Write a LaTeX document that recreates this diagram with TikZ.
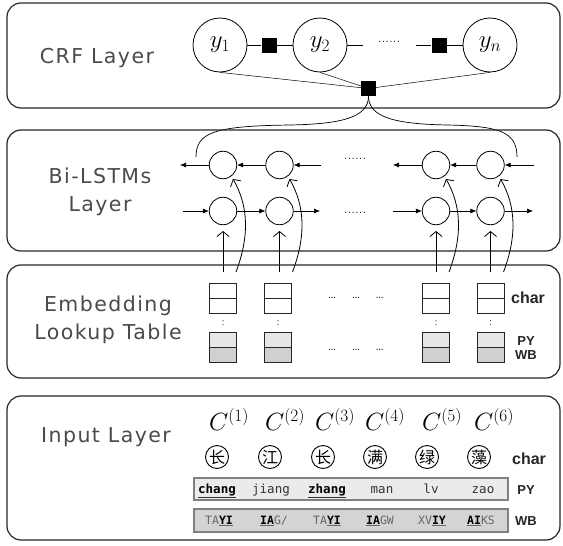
\documentclass[tikz,border=0pt]{standalone}
\usepackage{fontspec}
\usetikzlibrary{arrows.meta}
\newfontfamily\labfont[LetterSpace=7]{DejaVu Sans}
\newfontfamily\tagfont{Liberation Sans}
\newfontfamily\cjkfont{Noto Sans CJK SC}
\newfontfamily\mfont{DejaVu Sans Mono}
\definecolor{labgray}{HTML}{4A4A4A}
\definecolor{pyfill}{HTML}{EBEBEB}
\definecolor{wbfill}{HTML}{D4D4D4}
\definecolor{cellA}{HTML}{E6E6E6}
\definecolor{cellB}{HTML}{D0D0D0}
\tikzset{
  layerbox/.style={draw=black!85, line width=1.2pt, rounded corners=14pt},
  laytext/.style={font=\fontsize{20.5}{28}\selectfont\labfont, text=labgray, align=center},
  ycirc/.style={circle, draw, line width=0.8pt, minimum size=54pt, inner sep=0pt, font=\fontsize{25}{28}\selectfont},
  fsq/.style={fill=black, minimum size=15pt, inner sep=0pt},
  lcirc/.style={circle, draw, line width=0.8pt, minimum size=27.5pt, inner sep=0pt},
  arr/.style={-{Latex[length=6pt,width=5pt]}, line width=0.6pt},
  barb/.style={-{Straight Barb[length=5pt,width=12pt]}, line width=0.8pt},
  cellbox/.style={draw=black!85, line width=1pt, minimum width=27pt, minimum height=15pt, inner sep=0pt},
  bigtag/.style={font=\fontsize{16}{18}\selectfont\tagfont\bfseries, text=black!85},
  smtag/.style={font=\fontsize{13}{16}\selectfont\tagfont\bfseries, text=black!85, align=center},
  dotstxt/.style={font=\fontsize{15}{16}\selectfont},
  cjkc/.style={circle, draw, line width=0.9pt, minimum size=23pt, inner sep=0pt, font=\fontsize{16}{17}\selectfont\cjkfont},
  cmath/.style={font=\fontsize{23}{26}\selectfont},
  monotxt/.style={font=\fontsize{12.5}{14}\selectfont\mfont, anchor=base, text=black!80, inner sep=0pt},
  wbtxt/.style={font=\fontsize{11.5}{13}\selectfont\mfont, anchor=base, text=black!60, inner sep=0pt},
}
\newcommand{\ub}[1]{\underline{\textbf{\color{black}#1}}}
\begin{document}
\begin{tikzpicture}[x=1pt,y=-1pt]
\useasboundingbox (0,0) rectangle (563,546);
% ---------------- CRF layer
\draw[layerbox] (7,3) rectangle (560,108);
\node[laytext] (crft) at (97,58) {CRF Layer};
\node[ycirc] (y1) at (220,45) {$y_1$};
\node[ycirc] (y2) at (320,45) {$y_2$};
\node[ycirc] (yn) at (490,45) {$y_n$};
\node[fsq] (s1) at (269,45) {};
\node[fsq] (s2) at (439,45) {};
\node[fsq] (s0) at (368.5,88.5) {};
\coordinate (d1) at (363,45);
\coordinate (d2) at (416,45);
\node[dotstxt] (cd) at (389,42) {......};
\draw[line width=0.7pt] (y1) -- (s1) -- (y2);
\draw[line width=0.7pt] (y2) -- (d1);
\draw[line width=0.7pt] (d2) -- (s2) -- (yn);
\draw[line width=0.5pt] (y1.south) -- (s0.center);
\draw[line width=0.5pt] (y2.south) -- (s0.center);
\draw[line width=0.5pt] (yn.south) -- (s0.center);
\coordinate (bl) at (196,157);
\coordinate (br) at (517,157);
\draw[line width=0.7pt] (s0.south) .. controls (368.5,118) and (340,124) .. (290,125) .. controls (215,126) and (196,132) .. (bl);
\draw[line width=0.7pt] (s0.south) .. controls (368.5,118) and (397,124) .. (447,125) .. controls (500,126) and (517,132) .. (br);
% ---------------- Bi-LSTM layer
\draw[layerbox] (7,130) rectangle (560,251);
\node[laytext] (bit) at (100,192) {Bi-LSTMs\\Layer};
\foreach \i/\x in {1/223,2/279.5,3/436,4/490.5}{
  \node[lcirc] (t\i) at (\x,165) {};
  \node[lcirc] (b\i) at (\x,211) {};
}
\coordinate (tin4) at (534,165);
\coordinate (tout3) at (393,165);
\coordinate (tin2) at (321,165);
\coordinate (tout1) at (180,165);
\draw[arr] (tin4) -- (t4);
\draw[arr] (t4) -- (t3);
\draw[arr] (t3) -- (tout3);
\draw[arr] (tin2) -- (t2);
\draw[arr] (t2) -- (t1);
\draw[arr] (t1) -- (tout1);
\coordinate (bin1) at (183,211);
\coordinate (bout2) at (320,211);
\coordinate (bin3) at (393,211);
\coordinate (bout4) at (533,211);
\draw[arr] (bin1) -- (b1);
\draw[arr] (b1) -- (b2);
\draw[arr] (b2) -- (bout2);
\draw[arr] (bin3) -- (b3);
\draw[arr] (b3) -- (b4);
\draw[arr] (b4) -- (bout4);
\node[dotstxt] (td) at (355,159) {......};
\node[dotstxt] (bd) at (355,213) {......};
% vertical and curved arrows from embedding
\foreach \i/\x in {1/223,2/279.5,3/436,4/490.5}{
  \coordinate (v\i) at (\x,272);
  \coordinate (w\i) at (\x,231);
  \draw[barb] (v\i) -- (w\i);
  \coordinate (u\i) at ({\x+13},272);
  \coordinate (z\i) at ({\x+10},179);
  \draw[barb] (u\i) .. controls ({\x+27},235) and ({\x+25},205) .. (z\i);
}
% ---------------- Embedding layer
\draw[layerbox] (7,265) rectangle (560,378);
\node[laytext] (embt) at (108,320) {Embedding\\Lookup Table};
\foreach \i/\x in {1/223,2/278,3/436,4/490.5}{
  \node[cellbox] (ca\i) at (\x,290.8) {};
  \node[cellbox] (cb\i) at (\x,305.8) {};
  \node[cellbox, fill=cellA] (cc\i) at (\x,339.8) {};
  \node[cellbox, fill=cellB] (cd\i) at (\x,354.6) {};
  \node[font=\fontsize{11}{12}\selectfont, inner sep=0pt] (col\i) at (\x,323) {:};
}
\node[dotstxt] (ed1) at (356,298) {\dots\quad\dots\quad\dots};
\node[dotstxt] (ed2) at (356,350) {\dots\quad\dots\quad\dots};
\node[bigtag] (echar) at (528,298) {char};
\node[smtag] (epy) at (526,348) {PY\\[-2pt]WB};
% ---------------- Input layer
\draw[layerbox] (7,396) rectangle (560,540);
\node[laytext] (inpt) at (106,437) {Input Layer};
\foreach \i/\x in {1/229,2/285,3/335,4/385,5/442,6/494}{
  \node[cmath] (C\i) at (\x,420) {$C^{(\i)}$};
}
\foreach \i/\x/\c in {1/217/长,2/270/江,3/323/长,4/375/满,5/427/绿,6/479/藻}{
  \node[cjkc] (h\i) at (\x,457) {\c};
}
\node[bigtag] (ichar) at (529,459) {char};
\draw[draw=black!50, fill=pyfill, line width=1.2pt] (194,478) rectangle (508,500);
\draw[draw=black!50, fill=wbfill, line width=1.2pt] (194,509) rectangle (508,532);
\node[monotxt] (p1) at (217,493) {\ub{chang}};
\node[monotxt] (p2) at (271,493) {jiang};
\node[monotxt] (p3) at (327,493) {\ub{zhang}};
\node[monotxt] (p4) at (382,493) {man};
\node[monotxt] (p5) at (431,493) {lv};
\node[monotxt] (p6) at (483,493) {zao};
\node[wbtxt] (w1) at (219,524) {TA\ub{YI}};
\node[wbtxt] (w2) at (274,524) {\ub{IA}G/};
\node[wbtxt] (w3) at (327,524) {TA\ub{YI}};
\node[wbtxt] (w4) at (380,524) {\ub{IA}GW};
\node[wbtxt] (w5) at (432,524) {XV\ub{IY}};
\node[wbtxt] (w6) at (481,524) {\ub{AI}KS};
\node[smtag] (ipy) at (526,490) {PY};
\node[smtag] (iwb) at (526,521) {WB};
\end{tikzpicture}
\end{document}
